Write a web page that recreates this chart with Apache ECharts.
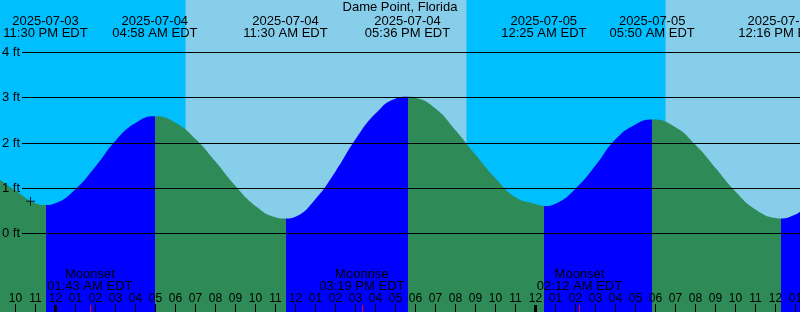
<!DOCTYPE html>
<html><head><meta charset="utf-8">
<script src="https://cdn.jsdelivr.net/npm/echarts@6/dist/echarts.min.js"></script>
<style>html,body{margin:0;padding:0;background:#00BFFF}#c{width:800px;height:312px}</style>
</head><body><div id="c"></div>
<script>
// Time unit: hours since 2025-07-04 00:00 EDT; levels in feet
const stationName = 'Dame Point, Florida';
const tideTimes  = [-2.775, -2, -1, -0.5, 0, 1, 2, 3, 4, 4.967, 6, 7, 8, 9, 10, 11, 11.5, 12, 13, 14, 15, 16, 17, 17.6, 18, 19, 20, 21, 22, 23, 24, 24.417, 25, 26, 27, 28, 29, 29.833, 31, 32, 33, 34, 35, 36, 36.267, 37, 37.225];
const tideLevels = [1.19, 0.95, 0.67, 0.63, 0.67, 0.98, 1.48, 2.05, 2.44, 2.59, 2.45, 2.09, 1.59, 1.05, 0.61, 0.36, 0.33, 0.37, 0.76, 1.37, 2.08, 2.65, 2.98, 3.02, 3.00, 2.76, 2.28, 1.74, 1.22, 0.80, 0.65, 0.61, 0.66, 0.99, 1.50, 2.08, 2.41, 2.52, 2.35, 1.96, 1.45, 0.93, 0.53, 0.34, 0.33, 0.42, 0.48];
const extremeTimes = [-0.5, 4.967, 11.5, 17.6, 24.417, 29.833, 36.267];
const extremeTypes = ['L', 'H', 'L', 'H', 'L', 'H', 'L'];
const extremeDates = ['2025-07-03', '2025-07-04', '2025-07-04', '2025-07-04', '2025-07-05', '2025-07-05', '2025-07-05'];
const extremeClock = ['11:30 PM EDT', '04:58 AM EDT', '11:30 AM EDT', '05:36 PM EDT', '12:25 AM EDT', '05:50 AM EDT', '12:16 PM EDT'];
const sunTimes = [6.5, 20.55, 30.5];
const sunTypes = ['rise', 'set', 'rise'];
const moonTimes = [1.717, 15.317, 26.2];
const moonNames = ['Moonset', 'Moonrise', 'Moonset'];
const moonClock = ['01:43 AM EDT', '03:19 PM EDT', '02:12 AM EDT'];
const hourTicks = [-2, -1, 0, 1, 2, 3, 4, 5, 6, 7, 8, 9, 10, 11, 12, 13, 14, 15, 16, 17, 18, 19, 20, 21, 22, 23, 24, 25, 26, 27, 28, 29, 30, 31, 32, 33, 34, 35, 36, 37];
const midnightTicks = [0, 24];
const levelTicks = [0, 1, 2, 3, 4];
const markPoints = [[-1.25, 0.71]];

const X_MIN = -2.775, X_MAX = 37.225, Y_MIN = -1.735, Y_MAX = 5.16;
const PX_PER_FT = 312 / (Y_MAX - Y_MIN);
const LINE_START = X_MIN + 22 / 20;
const FONT = 'Liberation Sans';
const BLUE = '#0000FF', GREEN = '#2E8B57', DAY = '#87CEEB', NIGHT = '#00BFFF';

const nearest = (arr, v) => { let b = 0; arr.forEach((a, i) => { if (Math.abs(a - v) < Math.abs(arr[b] - v)) b = i; }); return b; };

// Daytime intervals
const dayIntervals = [];
let openStart = null;
sunTimes.forEach((t, i) => {
  if (sunTypes[i] === 'rise') openStart = t;
  else { dayIntervals.push([openStart === null ? X_MIN : openStart, t]); openStart = null; }
});
if (openStart !== null) dayIntervals.push([openStart, X_MAX]);

// Rising (blue) / falling (green) pieces
const pieces = [];
let prev = null;
extremeTimes.forEach((t, i) => {
  const color = extremeTypes[i] === 'H' ? BLUE : GREEN;
  pieces.push(prev === null ? { lt: t, color } : { gte: prev, lt: t, color });
  prev = t;
});
pieces.push({ gte: prev, color: extremeTypes[extremeTypes.length - 1] === 'L' ? BLUE : GREEN });

// Tick marks along the bottom edge
const tickSeg = (t, lenPx, color, width) => [
  { coord: [t, Y_MIN], lineStyle: { color, width } },
  { coord: [t, Y_MIN + lenPx / PX_PER_FT] }
];
const tickData = []
  .concat(hourTicks.filter(h => midnightTicks.indexOf(h) < 0).map(h => tickSeg(h, 8, '#000', 1)))
  .concat(midnightTicks.map(h => tickSeg(h, 7, '#000', 3)))
  .concat(moonTimes.map(h => tickSeg(h, 7, '#FF0000', 1)));

const hourLabel = v => { const h = ((Math.round(v) % 12) + 12) % 12; return h === 0 ? '12' : String(h).padStart(2, '0'); };
const txt = { color: '#000', fontSize: 13, fontFamily: FONT, lineHeight: 12 };
const baseX = { type: 'value', min: X_MIN, max: X_MAX, splitLine: { show: false }, axisLine: { show: false, onZero: false }, axisTick: { show: false }, z: 10 };

const chart = echarts.init(document.getElementById('c'), null, { renderer: 'canvas' });
chart.setOption({
  backgroundColor: NIGHT,
  animation: false,
  title: { text: stationName, left: 'center', top: 1, padding: 0, textStyle: { color: '#000', fontSize: 13, fontWeight: 'normal', fontFamily: FONT } },
  grid: { left: 0, right: 0, top: 0, bottom: 0, containLabel: false, outerBoundsMode: 'none' },
  xAxis: [
    Object.assign({}, baseX, { position: 'bottom',
      axisLabel: Object.assign({}, txt, { show: true, inside: true, margin: 7, fontSize: 12, customValues: hourTicks, formatter: hourLabel }) }),
    Object.assign({}, baseX, { position: 'bottom',
      axisLabel: Object.assign({}, txt, { show: true, inside: true, margin: 20, customValues: moonTimes,
        formatter: v => { const i = nearest(moonTimes, v); return moonNames[i] + '\n' + moonClock[i]; } }) }),
    Object.assign({}, baseX, { position: 'top',
      axisLabel: Object.assign({}, txt, { show: true, inside: true, margin: 15, customValues: extremeTimes,
        formatter: v => { const i = nearest(extremeTimes, v); return extremeDates[i] + '\n' + extremeClock[i]; } }) })
  ],
  yAxis: { type: 'value', min: Y_MIN, max: Y_MAX, show: false, splitLine: { show: false }, axisLine: { onZero: false } },
  visualMap: { type: 'piecewise', show: false, dimension: 0, seriesIndex: 0, pieces },
  series: [
    { type: 'line', xAxisIndex: 0, data: tideTimes.map((t, i) => [t, tideLevels[i]]), smooth: 0.5, symbol: 'none',
      lineStyle: { width: 0 }, areaStyle: { opacity: 1, origin: 'start' }, z: 3, silent: true },
    { type: 'line', xAxisIndex: 0, data: [], silent: true,
      markArea: { silent: true, itemStyle: { color: DAY, opacity: 1 }, data: dayIntervals.map(([a, b]) => [{ xAxis: a }, { xAxis: b }]) },
      markLine: { silent: true, symbol: 'none', z: 6,
        lineStyle: { color: '#000', width: 1, type: 'solid' },
        label: { show: true, position: 'start', distance: 2, color: '#000', fontSize: 13, fontFamily: FONT, formatter: p => p.data.lbl },
        data: levelTicks.map(v => [{ coord: [LINE_START, v], lbl: v + ' ft' }, { coord: [X_MAX, v] }]) } },
    { type: 'line', xAxisIndex: 0, data: [], silent: true,
      markLine: { silent: true, symbol: 'none', z: 7, label: { show: false },
        lineStyle: { type: 'solid', opacity: 1 }, data: tickData } },
    { type: 'scatter', xAxisIndex: 0, data: markPoints, symbol: 'path://M0,4H9V5H0Z M4,0H5V9H4Z', symbolSize: 9,
      itemStyle: { color: '#000' }, z: 10, silent: true }
  ]
});
</script></body></html>
